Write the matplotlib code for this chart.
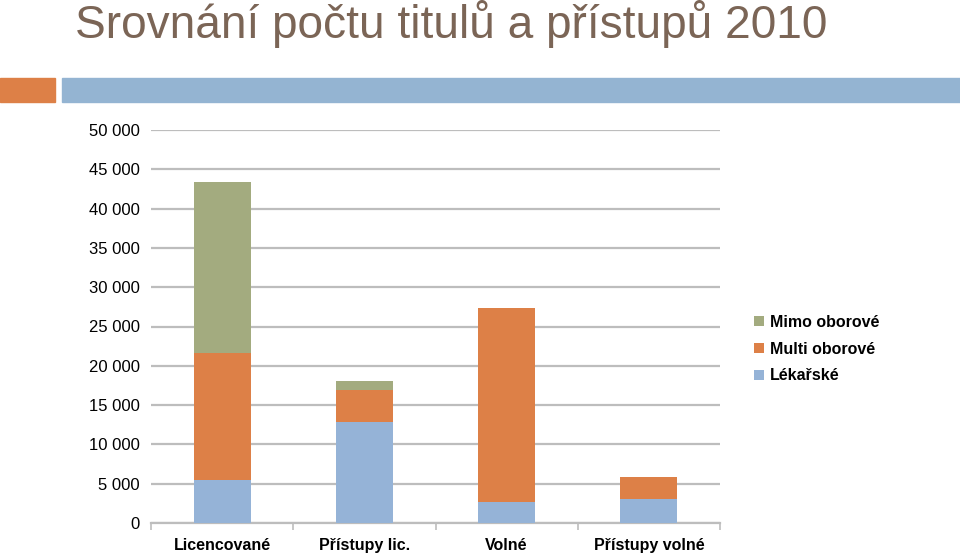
import matplotlib.pyplot as plt
import matplotlib.patches as mpatches
import numpy as np

plt.rcParams['font.family'] = ['Liberation Sans', 'DejaVu Sans']

categories = ['Licencované', 'Přístupy lic.', 'Volné', 'Přístupy volné']
lekarske = [5500, 12900, 2700, 3000]
multi = [16100, 4000, 24700, 2900]
mimo = [21800, 1200, 0, 0]

c_blue = '#95B3D7'
c_orange = '#DD8047'
c_green = '#A3AB7F'

fig = plt.figure(figsize=(9.6, 5.56), dpi=100)

# header strips
fig.patches.append(mpatches.Rectangle((0, 1 - 102/556), 55/960, 24/556,
                                      transform=fig.transFigure, color=c_orange))
fig.patches.append(mpatches.Rectangle((62/960, 1 - 102/556), 898/960, 24/556,
                                      transform=fig.transFigure, color='#94B4D2'))
fig.text(75/960, 1 - 24/556, 'Srovnání počtu titulů a přístupů 2010',
         fontsize=33.1, color='#7B6556', va='center', ha='left')

ax = fig.add_axes([151/960, 33/556, 569/960, 393/556])
x = np.arange(len(categories))
w = 0.4
ax.bar(x, lekarske, w, color=c_blue, label='Lékařské', zorder=3)
ax.bar(x, multi, w, bottom=lekarske, color=c_orange, label='Multi oborové', zorder=3)
bottom2 = np.array(lekarske) + np.array(multi)
ax.bar(x, mimo, w, bottom=bottom2, color=c_green, label='Mimo oborové', zorder=3)

ax.set_xlim(-0.5, len(categories) - 0.5)
ax.set_ylim(0, 50000)
ax.set_yticks(range(0, 50001, 5000))
ax.set_yticklabels(['0' if v == 0 else f'{v // 1000} 000' for v in range(0, 50001, 5000)])
ax.yaxis.grid(True, color='#BDBDBD', linewidth=1.6, zorder=0)
ax.set_axisbelow(True)
for s in ['top', 'right', 'left']:
    ax.spines[s].set_visible(False)
ax.spines['bottom'].set_color('#BDBDBD')
ax.spines['bottom'].set_linewidth(1.6)
ax.tick_params(axis='y', length=0, labelsize=12, pad=8)

ax.set_xticks(x)
ax.set_xticklabels(categories, fontsize=11.5, fontweight='bold')
ax.tick_params(axis='x', length=0, pad=11)
ax.set_xticks(np.arange(-0.5, len(categories)), minor=True)
ax.tick_params(axis='x', which='minor', length=5, color='#BDBDBD', width=1.2)

handles, labels = ax.get_legend_handles_labels()
leg = fig.legend(handles[::-1], labels[::-1], loc='center left',
                 bbox_to_anchor=(740/960, 1 - 349/556), frameon=False,
                 prop={'size': 11.5, 'weight': 'bold'}, handlelength=0.6,
                 handleheight=0.6, handletextpad=0.35, labelspacing=0.75)

fig.savefig('out.png', dpi=100)
